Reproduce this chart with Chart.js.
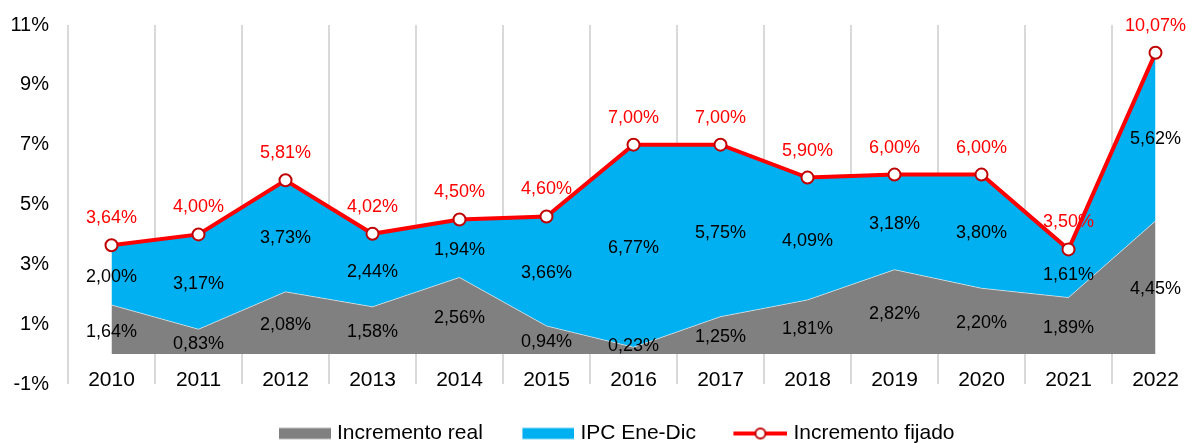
<!DOCTYPE html>
<html>
<head>
<meta charset="utf-8">
<script src="https://cdn.jsdelivr.net/npm/chart.js@4"></script>
<style>
  html, body { margin: 0; padding: 0; background: #fff; overflow: hidden; }
  canvas { display: block; }
</style>
</head>
<body>
<canvas id="area-chart" width="1207" height="443"></canvas>
<script>
const years = ["2010", "2011", "2012", "2013", "2014", "2015", "2016", "2017", "2018", "2019", "2020", "2021", "2022"];
const incrementoReal = [1.64, 0.83, 2.08, 1.58, 2.56, 0.94, 0.23, 1.25, 1.81, 2.82, 2.20, 1.89, 4.45];
const ipcEneDic = [2.00, 3.17, 3.73, 2.44, 1.94, 3.66, 6.77, 5.75, 4.09, 3.18, 3.80, 1.61, 5.62];
const incrementoFijado = [3.64, 4.00, 5.81, 4.02, 4.50, 4.60, 7.00, 7.00, 5.90, 6.00, 6.00, 3.50, 10.07];
const yTicks = [-1, 1, 3, 5, 7, 9, 11];

const GRAY = '#808080';
const BLUE = '#00b0f0';
const RED = '#ff0000';
const DARKRED = '#c00000';

Chart.defaults.font.family = '"Liberation Sans", Arial, sans-serif';
Chart.defaults.color = '#000';

const fmt = v => v.toFixed(2).replace('.', ',') + '%';

// legend swatches drawn on small canvases, mark sits at the right of the slot
function swatch(kind, color) {
  const c = document.createElement('canvas');
  c.width = 94; c.height = 14;
  const g = c.getContext('2d');
  if (kind === 'box') {
    g.fillStyle = color;
    g.fillRect(94 - 52, 1.5, 52, 11);
  } else {
    g.strokeStyle = RED; g.lineWidth = 4;
    g.beginPath(); g.moveTo(94 - 54, 7); g.lineTo(94, 7); g.stroke();
    g.beginPath(); g.arc(94 - 27, 7, 5, 0, Math.PI * 2);
    g.fillStyle = '#fff'; g.fill();
    g.strokeStyle = DARKRED; g.lineWidth = 2; g.stroke();
  }
  return c;
}
const swatches = [swatch('box', GRAY), swatch('box', BLUE), swatch('line')];

// fixed legend height
const legendHeight = {
  id: 'legendHeight',
  afterInit(chart) {
    const lg = chart.legend;
    if (!lg) return;
    const fit = lg.fit;
    lg.fit = function () { fit.call(this); this.height = 22; };
  }
};

const valueLabels = {
  id: 'valueLabels',
  afterDatasetsDraw(chart) {
    const ctx = chart.ctx;
    const y = chart.scales.y;
    ctx.save();
    ctx.font = '18px "Liberation Sans", Arial, sans-serif';
    ctx.textAlign = 'center';
    ctx.textBaseline = 'middle';
    const areaMeta = chart.getDatasetMeta(0);
    areaMeta.data.forEach((pt, i) => {
      ctx.fillStyle = '#000';
      const py = Math.min(y.getPixelForValue(incrementoReal[i] / 2) + 2, 346);
      ctx.fillText(fmt(incrementoReal[i]), pt.x, py);
      ctx.fillText(fmt(ipcEneDic[i]), pt.x, y.getPixelForValue(incrementoReal[i] + ipcEneDic[i] / 2) + 2);
    });
    chart.getDatasetMeta(2).data.forEach((pt, i) => {
      ctx.fillStyle = RED;
      ctx.fillText(fmt(incrementoFijado[i]), pt.x, pt.y - 27);
    });
    ctx.restore();
  }
};

new Chart(document.getElementById('area-chart'), {
  type: 'line',
  data: {
    labels: years,
    datasets: [
      {
        label: 'Incremento real',
        data: incrementoReal,
        backgroundColor: GRAY,
        borderColor: 'rgba(255,255,255,0.55)',
        borderWidth: 1,
        fill: 'origin',
        pointRadius: 0,
        tension: 0,
        stack: 'areas',
        order: 1
      },
      {
        label: 'IPC Ene-Dic',
        data: ipcEneDic,
        backgroundColor: BLUE,
        borderColor: BLUE,
        borderWidth: 0,
        fill: '-1',
        pointRadius: 0,
        tension: 0,
        stack: 'areas',
        order: 1
      },
      {
        label: 'Incremento fijado',
        data: incrementoFijado,
        borderColor: RED,
        backgroundColor: RED,
        borderWidth: 4,
        fill: false,
        tension: 0,
        pointRadius: 6,
        pointHoverRadius: 6,
        pointBackgroundColor: '#fff',
        pointBorderColor: DARKRED,
        pointBorderWidth: 2,
        stack: 'fijado',
        order: 0
      }
    ]
  },
  options: {
    responsive: false,
    animation: false,
    layout: { padding: { top: 25, right: 0, bottom: 0, left: -11 } },
    plugins: {
      tooltip: { enabled: false },
      legend: {
        display: true,
        position: 'bottom',
        labels: {
          usePointStyle: true,
          pointStyleWidth: 85,
          padding: 2,
          font: { size: 21 },
          generateLabels: chart => chart.data.datasets.map((ds, i) => ({
            text: ds.label,
            pointStyle: swatches[i],
            fillStyle: 'transparent',
            strokeStyle: 'transparent',
            lineWidth: 0,
            datasetIndex: i
          }))
        }
      }
    },
    scales: {
      x: {
        offset: true,
        border: { display: false },
        afterFit: scale => { scale.height = 37; },
        grid: { offset: true, color: '#d9d9d9', lineWidth: 2, drawTicks: false },
        // mirrored so the year labels sit inside the band between 0% and -1%
        ticks: { font: { size: 21 }, mirror: true, padding: -8.6 }
      },
      y: {
        stacked: true,
        min: -1,
        max: 11,
        border: { display: false },
        afterFit: scale => {
          scale.width = 79;
          scale.paddingTop = 0;
          scale.paddingBottom = 0;
        },
        afterBuildTicks: scale => { scale.ticks = yTicks.map(v => ({ value: v })); },
        grid: {
          drawTicks: false,
          lineWidth: 2,
          color: c => (c.tick && c.tick.value === 0 ? '#d9d9d9' : 'transparent')
        },
        ticks: { font: { size: 20 }, padding: 19, callback: v => v + '%' }
      }
    }
  },
  plugins: [legendHeight, valueLabels]
});
</script>
</body>
</html>
